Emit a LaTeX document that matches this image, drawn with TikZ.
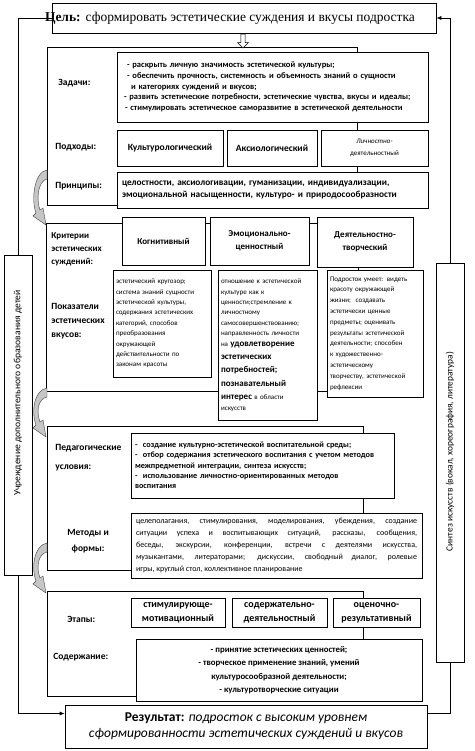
\documentclass[tikz,border=0pt]{standalone}
\usepackage{fontspec}
\setmainfont{Carlito}
\newfontfamily\timesfont{Liberation Serif}
\usetikzlibrary{arrows.meta, positioning, shapes.arrows}

\newcommand{\bigind}{\fontsize{9}{10}\selectfont\bfseries}

\begin{document}
\begin{tikzpicture}[x=1pt, y=-1pt, line width=0.7pt,
    blk/.style={draw, fill=white, align=center, inner sep=3pt},
    frame/.style={draw},
    lbl/.style={anchor=west, align=left, inner sep=0pt, font=\fontsize{9.5}{13}\selectfont\bfseries},
    >={Latex[length=5pt, width=4pt]}]
    \useasboundingbox (0,0) rectangle (474,751);

    % frames of the four blocks
    \node[frame, minimum width=310pt, minimum height=158pt] (grpa) at (202,126) {};
    \node[frame, minimum width=312pt, minimum height=168pt] (grpb) at (202,307) {};
    \node[frame, minimum width=316pt, minimum height=144pt] (grpc) at (205,498) {};
    \node[frame, minimum width=316pt, minimum height=105pt] (grpd) at (205,643.5) {};

    % goal
    \node[blk, minimum height=30pt, text width=376pt, align=left, inner sep=4pt] (goal) at (244,18)
        {\hspace*{-11pt}{\timesfont\fontsize{13.5}{15}\selectfont\textbf{Цель:} сформировать эстетические суждения и вкусы подростка}};
    \node[draw, fill=white, single arrow, shape border rotate=270, minimum height=14pt, minimum width=11pt,
        single arrow head extend=2pt, inner sep=1pt, line width=0.5pt] (down) at (243,40) {};

    % tasks, approaches, principles
    \node[lbl] (ltask) at (58,83) {Задачи:};
    \node[blk, text width=301pt, minimum height=70pt, align=left, inner sep=5pt,
        font=\fontsize{8.5}{10.7}\selectfont\bfseries] (task) at (272.5,87)
        {\hspace*{5pt}- раскрыть личную значимость эстетической культуры;\\
         \hspace*{5pt}- обеспечить прочность, системность и объемность знаний о сущности\\
         \hspace*{9pt}и категориях суждений и вкусов;\\
         \hspace*{2pt}- развить эстетические потребности, эстетические чувства, вкусы и идеалы;\\
         \hspace*{3pt}- стимулировать эстетическое саморазвитие в эстетической деятельности};
    \node[lbl] (lappr) at (55,147) {Подходы:};
    \node[blk, minimum width=106pt, minimum height=36pt, font=\fontsize{9.5}{12}\selectfont\bfseries] (appa) at (170,148) {Культурологический};
    \node[blk, minimum width=90pt, minimum height=36pt, font=\fontsize{9.5}{12}\selectfont\bfseries] (appb) at (272,148) {Аксиологический};
    \node[blk, minimum width=107pt, minimum height=36pt, font=\fontsize{7}{12}\selectfont] (appc) at (374.5,148) {\textit{Личностно-}\\деятельностный};
    \node[lbl] (lprinc) at (55,186) {Принципы:};
    \node[blk, text width=301pt, minimum height=36pt, align=left, inner sep=5pt,
        font=\fontsize{9.3}{12}\selectfont\bfseries] (princ) at (272.5,190)
        {целостности, аксиологивации, гуманизации, индивидуализации,\\
         эмоциональной насыщенности, культуро- и природосообразности};

    % criteria and indicators
    \node[lbl, font=\fontsize{9}{13}\selectfont\bfseries] (lcrit) at (51,249) {Критерии\\эстетических\\суждений:};
    \node[blk, minimum width=83pt, minimum height=48pt, font=\fontsize{9}{13}\selectfont\bfseries] (crita) at (163.5,241) {Когнитивный};
    \node[blk, minimum width=99pt, minimum height=48pt, font=\fontsize{9}{13}\selectfont\bfseries] (critb) at (259.5,241) {Эмоционально-\\ценностный};
    \node[blk, minimum width=96pt, minimum height=50pt, font=\fontsize{9}{13}\selectfont\bfseries] (critc) at (365,242) {Деятельностно-\\творческий};
    \node[lbl, font=\fontsize{9.5}{14}\selectfont\bfseries] (lind) at (51,321) {Показатели\\эстетических\\вкусов:};
    \node[blk, text width=92pt, minimum height=107pt, align=left, font=\fontsize{7}{10.4}\selectfont] (inda) at (162,323.5)
        {эстетический кругозор;\\ система знаний сущности\\ эстетической культуры,\\ содержания эстетических\\
         категорий, способов\\ преобразования\\ окружающей\\ действительности по\\ законам красоты};
    \node[blk, text width=93pt, minimum height=150pt, align=left, font=\fontsize{7}{10.4}\selectfont] (indb) at (267.5,345)
        {отношение к эстетической\\ культуре как к\\ ценности;стремление к\\ личностному\\ самосовершенствованию;\\
         направленность личности\\ на {\bigind удовлетворение}\\[3pt] {\bigind эстетических}\\[3pt]
         {\bigind потребностей;}\\[3pt] {\bigind познавательный}\\[3pt] {\bigind интерес} в области\\ искусств};
    \node[blk, text width=90pt, minimum height=127pt, align=left, font=\fontsize{7}{10.8}\selectfont] (indc) at (375,333.5)
        {Подросток умеет: видеть\\ красоту окружающей\\ жизни;\ \ создавать\\ эстетически ценные\\ предметы; оценивать\\
         результаты эстетической\\ деятельности; способен\\ к художественно-\\ эстетическому\\ творчеству, эстетической\\ рефлексии};

    % conditions and methods
    \node[lbl, font=\fontsize{9.5}{19}\selectfont\bfseries] (lcond) at (55,458) {Педагогические\\условия:};
    \node[blk, text width=255pt, minimum height=65pt, align=left, inner sep=4pt,
        font=\fontsize{8.2}{10.3}\selectfont\bfseries] (cond) at (262.5,465.5)
        {-\ \ создание культурно-эстетической воспитательной среды;\\
         -\ \ отбор содержания эстетического воспитания с учетом методов\\
         межпредметной интеграции, синтеза искусств;\\
         -\ \ использование личностно-ориентированных методов\\
         воспитания};
    \node[lbl, align=center, font=\fontsize{9.5}{16}\selectfont\bfseries] (lmeth) at (67,541) {Методы и\\формы:};
    \node[blk, text width=281pt, minimum height=65pt, align=justify, inner sep=5pt,
        font=\fontsize{8}{12}\selectfont] (meth) at (276.5,545.5)
        {целеполагания, стимулирования, моделирования, убеждения, создание\linebreak
         ситуации успеха и воспитывающих ситуаций, рассказы, сообщения,\linebreak
         беседы, экскурсии, конференции, встречи с деятелями искусства,\linebreak
         музыкантами, литераторами; дискуссии, свободный диалог, ролевые\linebreak
         игры, круглый стол, коллективное планирование};

    % stages and content
    \node[lbl] (lstage) at (67,619) {Этапы:};
    \node[blk, minimum width=94pt, minimum height=29pt, font=\fontsize{10}{14}\selectfont\bfseries] (sta) at (178,612.5) {стимулирующе-\\мотивационный};
    \node[blk, minimum width=95pt, minimum height=29pt, font=\fontsize{10}{14}\selectfont\bfseries] (stb) at (279.5,612.5) {содержательно-\\деятельностный};
    \node[blk, minimum width=87pt, minimum height=29pt, font=\fontsize{10}{14}\selectfont\bfseries] (stc) at (376.5,612.5) {оценочно-\\результативный};
    \node[lbl] (lcont) at (53,657) {Содержание:};
    \node[blk, minimum width=286pt, minimum height=62pt, font=\fontsize{8.8}{13.5}\selectfont\bfseries] (cont) at (279,670)
        {- принятие эстетических ценностей;\\
         - творческое применение знаний, умений\\
         культуросообразной деятельности;\\
         - культуротворческие ситуации};

    % result and side boxes
    \node[blk, minimum width=362pt, minimum height=43pt, font=\fontsize{13.5}{16}\selectfont] (result) at (246,726.5)
        {\textbf{Результат:} \textit{подросток с высоким уровнем}\\ \textit{сформированности эстетических суждений и вкусов}};
    \node[blk, minimum width=320pt, minimum height=28pt, rotate=90, font=\fontsize{9.6}{12}\selectfont] (inst) at (18,415)
        {\hspace*{44pt}Учреждение дополнительного образования детей};
    \node[blk, minimum width=399pt, minimum height=28pt, rotate=90, font=\fontsize{9.4}{12}\selectfont] (synth) at (450,462.5)
        {\hspace*{22pt}Синтез искусств (вокал, хореография, литература)};

    % loops
    \draw (goal.west) -| (inst.east);
    \draw[->] (inst.west) |- ([yshift=13pt]result.west);
    \draw[->] (synth.east) |- (goal.east);
    \draw (synth.west) |- ([yshift=13pt]result.east);

    % gray turning arrows between blocks
    \foreach \ya/\yb in {170/225, 388/437, 543/593}
        \filldraw[fill=gray!45, draw=black!75, line width=0.4pt]
            (47,\ya) .. controls (34,\ya+2) and (31,\yb-25) .. (36,\yb-12)
            -- (33,\yb-9) -- (46,\yb) -- (43,\yb-17) -- (40,\yb-15)
            .. controls (36,\yb-26) and (38,\ya+11) .. (47,\ya+9) -- cycle;
\end{tikzpicture}
\end{document}
